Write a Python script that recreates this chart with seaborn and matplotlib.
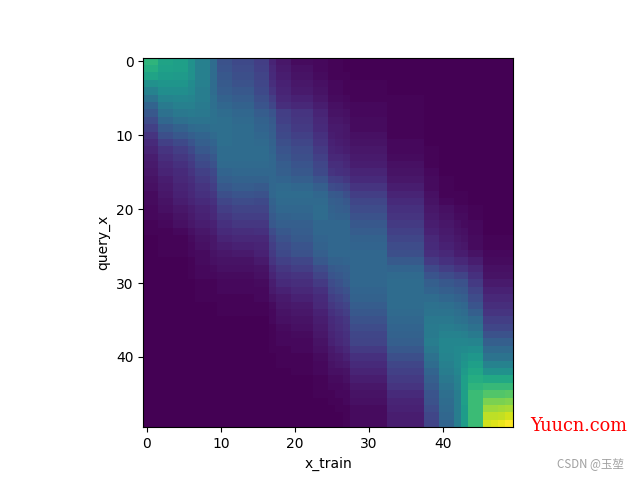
import numpy as np
import matplotlib
matplotlib.use("Agg")
import matplotlib.pyplot as plt
import seaborn as sns

# readings from the picture, in % of the top colour. One list per band of
# x_train columns that look the same, going down the 50 query rows.
band_widths = [2, 2, 2, 1, 2, 1, 2, 3, 2, 1, 2, 3, 2, 1, 1, 1, 5, 5, 2, 2, 1, 1, 2, 1, 1, 1, 1]

band_00 = [65,62,58,50,44, 38,32,27,23,19, 15,12,10,8,7, 6,5,4,3,3, 2,2,1,1,0] + [0] * 25
band_02 = [58,57,55,52,49, 45,41,37,33,28, 24,19,15,13,11, 10,8,7,6,5, 4,3,2,1,1, 1,1] + [0] * 23
band_04 = [56,56,54,52,49, 46,43,40,36,31, 27,22,18,16,14, 12,11,10,9,8, 6,5,4,2,1, 1,1] + [0] * 23
band_06 = [50,50,50,48,47, 45,43,41,38,34, 30,26,22,19,17, 15,13,12,11,10, 8,7,6,4,3, 2,2,1,1,1] + [0] * 20
band_07 = [43,43,43,43,42, 42,41,40,38,35, 32,30,27,24,22, 19,17,15,14,12, 10,9,8,6,5, 4,3,3,2,2, 1,1,1] + [0] * 17
band_09 = [35,35,35,35,35, 36,36,37,37,36, 34,32,30,27,25, 22,20,18,16,14, 12,11,9,8,6, 6,5,4,3,2, 1,1,1] + [0] * 17
band_10 = [25,26,27,28,29, 31,33,35,36,36, 36,36,35,35,34, 32,30,27,24,21, 18,16,14,12,10, 8,6,5,4,3, 2,2,1,1,1] + [0] * 15
band_12 = [22,23,24,25,27, 29,31,33,34,35, 35,35,35,35,34, 33,31,29,26,23, 20,18,16,13,11, 9,7,5,4,3, 2,2,1,1,1] + [0] * 15
band_15 = [18,19,20,21,22, 24,26,29,31,32, 33,34,35,35,34, 33,31,28,25,22, 20,18,16,14,11, 10,9,7,5,4, 3,2,2,1,1] + [0] * 15
band_17 = [10,11,12,13,15, 18,21,26,28,29, 30,31,32,33,33, 33,33,33,33,31, 30,28,27,23,20, 18,17,15,12,10, 8,7,5,3,2, 2,1,1,1,1] + [0] * 10
band_18 = [6,7,8,9,10, 11,13,18,19,21, 22,24,26,27,29, 30,32,34,35,34, 33,31,30,27,25, 23,22,19,16,14, 12,9,7,6,5, 4,3,2,2,1, 1,1] + [0] * 8
band_20 = [3,4,5,6,7, 9,11,15,16,17, 19,21,23,24,26, 27,30,33,35,34, 33,32,30,29,28, 26,25,21,18,15, 13,11,9,7,6, 5,4,3,2,2, 1,1,1] + [0] * 7
band_23 = [2,2,3,4,5, 6,8,10,11,12, 14,15,17,19,21, 22,26,30,33,34, 35,35,33,33,32, 31,30,27,23,20, 17,14,12,11,9, 8,7,6,5,4, 3,2,2,1,1, 1,0,0,0,0]
band_25 = [1,1,1,2,2, 3,4,5,6,7, 8,9,10,11,13, 15,19,23,28,30, 31,32,33,33,33, 33,33,31,28,26, 23,21,18,16,14, 12,11,10,9,7, 6,5,4,3,2, 1,1,0,0,0]
band_26 = [1,1,1,2,2, 3,4,5,6,7, 7,8,9,11,13, 14,18,22,27,29, 30,31,33,33,33, 33,33,31,29,27, 25,23,20,18,16, 14,13,12,11,9, 7,6,4,3,2, 2,1,1,0,0]
band_27 = [0,0,1,1,1, 2,3,4,5,6, 6,7,8,10,11, 13,16,20,24,27, 29,31,33,33,33, 33,33,32,30,29, 28,25,23,20,18, 16,15,14,13,11, 9,7,5,4,3, 2,2,1,1,1]
band_28 = [0,0,0,1,1, 1,2,2,3,3, 4,5,6,7,8, 10,12,15,18,21, 23,25,27,29,31, 32,33,33,33,33, 33,32,31,29,27, 25,23,21,20,17, 14,12,10,8,6, 5,4,3,3,3]
band_33 = [0,0,0,0,0, 1,1,1,1,1, 1,2,2,3,4, 5,6,8,10,12, 14,15,17,19,21, 23,24,28,32,34, 35,35,35,35,34, 33,32,31,30,27, 24,21,19,17,15, 12,10,9,8,8]
band_38 = [0] * 12 + [1,1,1, 2,3,3,4,5, 6,7,8,9,11, 12,13,17,22,26, 30,32,35,37,38, 40,41,41,42,40, 37,35,32,30,28, 26,25,23,21,20]
band_40 = [0] * 16 + [1,1,1,2, 4,5,6,7,8, 9,11,14,18,23, 27,30,33,36,38, 40,42,44,46,46, 45,43,42,40,38, 36,35,34,33,32]
band_42 = [0] * 18 + [1,1, 2,3,4,5,6, 7,8,11,15,20, 25,28,31,34,36, 38,41,44,46,47, 47,47,46,44,43, 42,42,42,42,42]
band_43 = [0] * 18 + [1,1, 2,3,3,4,5, 6,8,11,15,20, 25,27,30,33,35, 37,40,43,46,48, 50,52,54,56,56, 56,56,55,55,55]
band_44 = [0] * 20 + [1,1,2,2,3, 3,5,8,11,14, 17,20,23,26,30, 34,37,41,45,49, 53,56,59,62,65, 68,68,68,68,68]
band_46 = [0] * 24 + [1, 1,2,3,4,5, 7,9,11,13,15, 18,21,25,30,34, 38,44,50,60,67, 73,80,85,90,93]
band_47 = [0] * 24 + [1, 1,2,3,4,5, 7,9,11,13,15, 18,21,25,30,34, 38,44,50,60,67, 73,80,85,90,95]
band_48 = [0] * 24 + [1, 1,2,3,4,5, 7,9,11,13,15, 18,21,25,30,34, 38,44,50,60,67, 73,80,86,91,97]
band_49 = [0] * 24 + [1, 1,2,3,4,5, 7,9,11,13,15, 18,21,25,30,34, 38,44,50,60,67, 74,81,87,93,100]

bands = [band_00, band_02, band_04, band_06, band_07, band_09, band_10, band_12, band_15,
         band_17, band_18, band_20, band_23, band_25, band_26, band_27, band_28, band_33,
         band_38, band_40, band_42, band_43, band_44, band_46, band_47, band_48, band_49]

x_ticks = [0, 10, 20, 30, 40]
y_ticks = [0, 10, 20, 30, 40]

attention = np.repeat(np.array(bands).T, band_widths, axis=1)

fig, ax = plt.subplots(figsize=(6.4, 4.8), dpi=100)
sns.heatmap(attention, cmap="viridis", cbar=False, square=True, ax=ax,
            xticklabels=False, yticklabels=False)

ax.set_xticks(np.array(x_ticks) + 0.5)
ax.set_xticklabels(x_ticks, rotation=0)
ax.set_yticks(np.array(y_ticks) + 0.5)
ax.set_yticklabels(y_ticks, rotation=0)
ax.tick_params(length=3.5, width=0.8, labelsize=10)
ax.set_xlabel("x_train")
ax.set_ylabel("query_x")
for spine in ax.spines.values():
    spine.set_visible(True)
    spine.set_linewidth(0.8)
    spine.set_color("black")

# watermarks in the lower right corner
fig.text(530 / 640, 1 - 426 / 480, "Yuucn.com", color="#ff0000", fontsize=12.8,
         family="DejaVu Serif", va="center", ha="left")
fig.text(557 / 640, 1 - 465 / 480, "CSDN @玉堃", color="#a0a0a0", fontsize=8.3,
         family=["Noto Sans CJK SC", "DejaVu Sans"], va="center", ha="left")

fig.savefig("out.png", dpi=100)
